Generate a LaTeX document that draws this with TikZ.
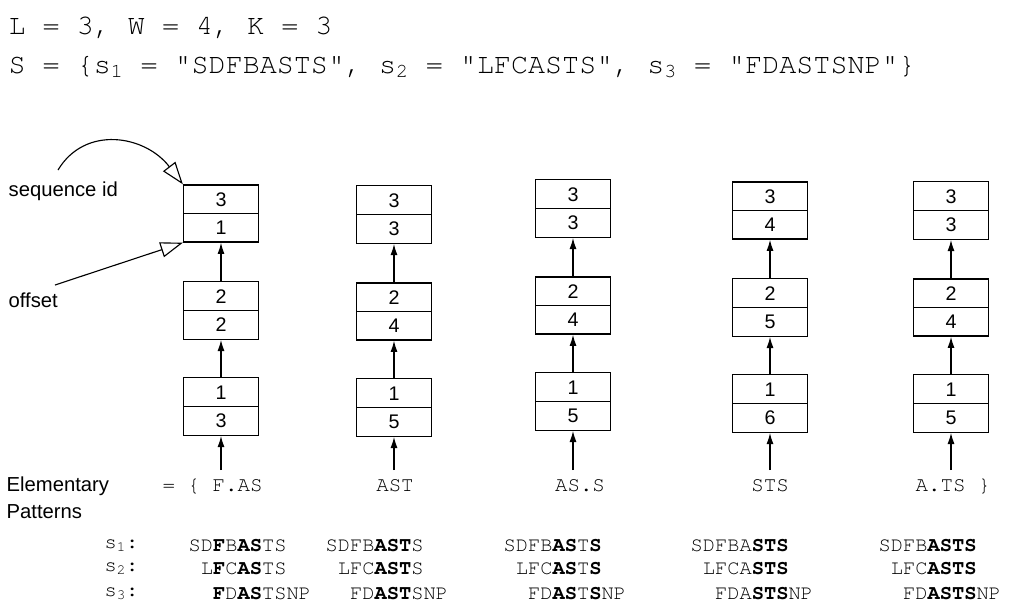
\documentclass[tikz,border=0pt]{standalone}
\usepackage{fontspec}
\setmainfont{Liberation Sans}
\setmonofont{TeX Gyre Cursor}
\usetikzlibrary{shapes.multipart,arrows.meta}
\frenchspacing

\begin{document}
\begin{tikzpicture}[x=0.025cm,y=-0.025cm,line width=0.9pt]
  \tikzstyle{cell}=[rectangle split,rectangle split parts=2,draw,minimum width=1.875cm,
    inner xsep=0pt,inner ysep=4.8pt,text height=10pt,text depth=0pt,font=\fontsize{14}{16}\selectfont]
  \tikzstyle{up}=[-{Latex[length=8pt,width=5pt]}]
  \tikzstyle{hint}=[-{Triangle[open,length=16pt,width=11pt,fill=white]},line width=0.8pt]
  \tikzstyle{label}=[inner sep=0pt,anchor=west,font=\fontsize{14.4}{16}\selectfont]
  \tikzstyle{top}=[inner sep=0pt,anchor=west,font=\ttfamily\fontsize{20.2}{22}\selectfont]
  \tikzstyle{pat}=[inner sep=0pt,font=\ttfamily\fontsize{14.8}{16}\selectfont]
  \tikzstyle{str}=[inner sep=0pt,anchor=west,font=\ttfamily\fontsize{14.5}{16}\selectfont]

  \useasboundingbox (0,0) rectangle (1019,608);

  \node[top] (params) at (8,28) {L = 3, W = 4, K = 3};
  \node[top] (seqs) at (8,67) {S = \{s\textsubscript{1} = "SDFBASTS", s\textsubscript{2} = "LFCASTS", s\textsubscript{3} = "FDASTSNP"\}};

  % one column of boxes per elementary pattern
  \foreach \c/\x/\y/\o in {1/221/186/3, 2/394/187/5, 3/573/181/5, 4/770/183/6, 5/951/183/5}
  {
    \pgfmathtruncatemacro\om{\o-1}
    \pgfmathtruncatemacro\on{\o-2}
    \node[cell] (c\c-1) at (\x,\y+193+27.5) {1\nodepart{two}\o};
    \node[cell] (c\c-2) at (\x,\y+97+27.5) {2\nodepart{two}\om};
    \node[cell] (c\c-3) at (\x,\y+27.5) {3\nodepart{two}\on};
    \coordinate (t-\c) at (\x,470);
    \draw[up] (t-\c) -- (c\c-1.south);
    \draw[up] (c\c-1.north) -- (c\c-2.south);
    \draw[up] (c\c-2.north) -- (c\c-3.south);
  }

  \node[label] (seqid) at (8,191) {sequence id};
  \node[label] (offset) at (8,300) {offset};
  \coordinate (seqid-tail) at (58,170);
  \coordinate (offset-tail) at (55,285);
  \draw[hint] (seqid-tail) .. controls (85,125) and (145,135) .. (c1-3.north west);
  \draw[hint] (offset-tail) -- (c1-3.south west);

  \node[label] (elem) at (6,486) {Elementary};
  \node[label] (patt) at (6,512) {Patterns};

  \node[pat,anchor=west] (e-1) at (162,486) {= \{ F.AS};
  \node[pat] (e-2) at (395,486) {AST};
  \node[pat] (e-3) at (580,486) {AS.S};
  \node[pat] (e-4) at (770,486) {STS};
  \node[pat,anchor=west] (e-5) at (915,486) {A.TS \}};

  \foreach \s/\y in {1/546, 2/569, 3/594}
    \node[str] (s-\s) at (104,\y) {s\textsubscript{\s}:};

  \foreach \c/\x/\sa/\sb/\sc in {
    1/188/{SD\textbf{F}B\textbf{AS}TS}/{L\textbf{F}C\textbf{AS}TS}/{\textbf{F}D\textbf{AS}TSNP},
    2/325/{SDFB\textbf{AST}S}/{LFC\textbf{AST}S}/{FD\textbf{AST}SNP},
    3/503/{SDFB\textbf{AS}T\textbf{S}}/{LFC\textbf{AS}T\textbf{S}}/{FD\textbf{AS}T\textbf{S}NP},
    4/690/{SDFBA\textbf{STS}}/{LFCA\textbf{STS}}/{FDA\textbf{STS}NP},
    5/878/{SDFB\textbf{ASTS}}/{LFC\textbf{ASTS}}/{FD\textbf{ASTS}NP}}
  {
    \node[str] (m\c-1) at (\x,546) {\sa};
    \node[str] (m\c-2) at (\x,569) {\hphantom{S}\sb};
    \node[str] (m\c-3) at (\x,594) {\hphantom{SS}\sc};
  }
\end{tikzpicture}
\end{document}
